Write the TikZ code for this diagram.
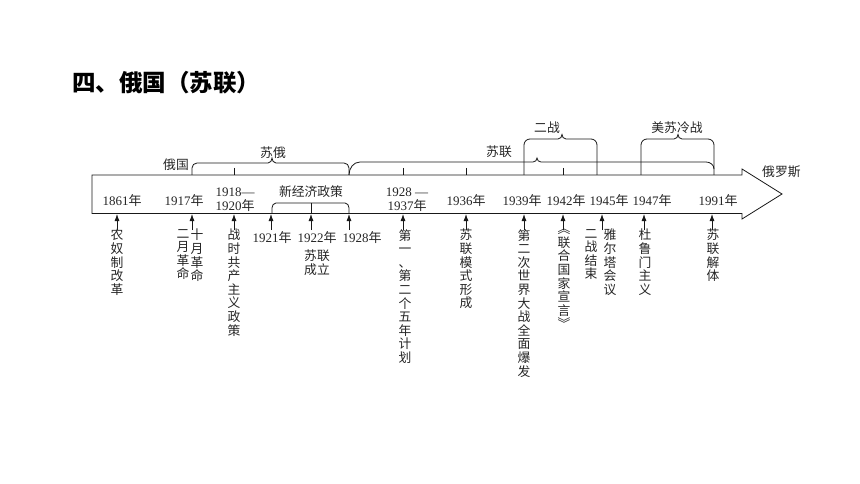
\documentclass[tikz,border=0pt]{standalone}
\usepackage{fontspec}
\setmainfont{Liberation Serif}
\newfontfamily\cjk{Noto Sans CJK SC}
\usetikzlibrary{arrows.meta}
\newcommand\nian{{\cjk 年}}
\tikzset{
  x=1pt,y=-1pt,
  tline/.style={line width=0.8pt, draw=black!90},
  yr/.style={font=\fontsize{13}{14.5}\selectfont, inner sep=0pt, align=center, text=black!85},
  zh/.style={font=\cjk\fontsize{12.8}{13.6}\selectfont, inner sep=0pt, align=center, text=black!85},
  vt/.style={zh, anchor=north},
  evarrow/.style={line width=0.8pt, draw=black!90, -{Latex[length=7pt,width=5pt]}},
}
\begin{document}
\begin{tikzpicture}
\useasboundingbox[fill=white] (0,0) rectangle (860,484);
\node[font=\cjk\bfseries\fontsize{23.5}{23.5}\selectfont, anchor=west, inner sep=0pt] (title) at (72,83) {四、俄国（苏联）};

% main timeline arrow
\draw[tline] (92,175) -- (742,175) -- (742,169) -- (782,194) -- (742,219) -- (742,213.5) -- (92,213.5) -- cycle;
\node[zh, anchor=west] (rus) at (762,172) {俄罗斯};

% years inside the arrow
\node[yr] (y1861) at (122,200.5) {1861\nian};
\node[yr] (y1917) at (184,200.5) {1917\nian};
\node[yr] (y1918) at (235,199.5) {1918—\\1920\nian};
\node[zh] (nep) at (311,192) {新经济政策};
\node[yr] (y1928b) at (407,199.5) {1928 —\\1937\nian};
\node[yr] (y1936) at (466,200.5) {1936\nian};
\node[yr] (y1939) at (522,200.5) {1939\nian};
\node[yr] (y1942) at (566,200.5) {1942\nian};
\node[yr] (y1945) at (609,200.5) {1945\nian};
\node[yr] (y1947) at (652,200.5) {1947\nian};
\node[yr] (y1991) at (718,200.5) {1991\nian};

% brace under NEP
\draw[tline] (272,213.5) -- (272,208) to[out=90,in=180] (276,203) -- (345,203) to[out=0,in=90] (349,208) -- (349,213.5);
\draw[tline] (311,203) -- (311,213.5);

% upper braces
\draw[tline] (192,175) -- (192,168) to[out=90,in=180] (197,163) -- (268,163) to[out=0,in=270] (272,158) to[out=270,in=180] (276,163) -- (344,163) to[out=0,in=90] (349,168) -- (349,175);
\draw[tline] (349,175) to[out=90,in=180] (360,162) -- (533,162) to[out=0,in=270] (537,158) to[out=270,in=180] (541,162) -- (706,162) to[out=0,in=90] (714,169);
\draw[tline] (524,175) -- (524,145) to[out=90,in=180] (530,139) -- (558,139) to[out=0,in=270] (562,134.5) to[out=270,in=180] (566,139) -- (591,139) to[out=0,in=90] (597,145) -- (597,175);
\draw[tline] (641,175) -- (641,145) to[out=90,in=180] (647,139) -- (674,139) to[out=0,in=270] (678,134.5) to[out=270,in=180] (682,139) -- (708,139) to[out=0,in=90] (714,145) -- (714,175);
\node[zh] (eguo) at (176,165) {俄国};
\node[zh] (sue) at (273,153) {苏俄};
\node[zh] (sulian) at (499,152) {苏联};
\node[zh] (erzhan) at (547,128) {二战};
\node[zh] (lengzhan) at (677,128) {美苏冷战};

% small ticks on top edge
\foreach \x/\n in {234/ta,403/tb,466/tc,563/td}{
  \coordinate (\n1) at (\x,168);
  \coordinate (\n2) at (\x,175);
  \draw[tline] (\n1) -- (\n2);
}

% event arrows below
\foreach \x/\n in {117/a,192/b,234/c,271/d,311/e,349/f,403/g,466/h,524/i,563/j,602/k,644/l,712/m}{
  \coordinate (s\n) at (\x,230);
  \coordinate (e\n) at (\x,214);
  \draw[evarrow] (s\n) -- (e\n);
}

% lower year labels
\node[yr] (y1921) at (272,237.5) {1921\nian};
\node[yr] (y1922) at (317,237.5) {1922\nian};
\node[yr] (y1928) at (362,237.5) {1928\nian};
\node[zh] (sulcl) at (317,262.5) {苏联\\成立};

% vertical event texts
\node[vt] (ev1) at (117,229) {农\\奴\\制\\改\\革};
\node[vt] (ev2a) at (183,229) {二\\月\\革\\命};
\node[vt] (ev2b) at (197,229) {十\\月\\革\\命};
\node[vt] (ev3) at (234,229) {战\\时\\共\\产\\主\\义\\政\\策};
\node[vt] (ev4) at (405,229) {第\\一\\、\\第\\二\\个\\五\\年\\计\\划};
\node[vt] (ev5) at (466,229) {苏\\联\\模\\式\\形\\成};
\node[vt] (ev6) at (524,229) {第\\二\\次\\世\\界\\大\\战\\全\\面\\爆\\发};
\node[vt] (ev7) at (564,229) {︽\\联\\合\\国\\家\\宣\\言\\︾};
\node[vt] (ev8a) at (591,229) {二\\战\\结\\束};
\node[vt] (ev8b) at (610,229) {雅\\尔\\塔\\会\\议};
\node[vt] (ev9) at (645,229) {杜\\鲁\\门\\主\\义};
\node[vt] (ev10) at (713,229) {苏\\联\\解\\体};
\end{tikzpicture}
\end{document}
